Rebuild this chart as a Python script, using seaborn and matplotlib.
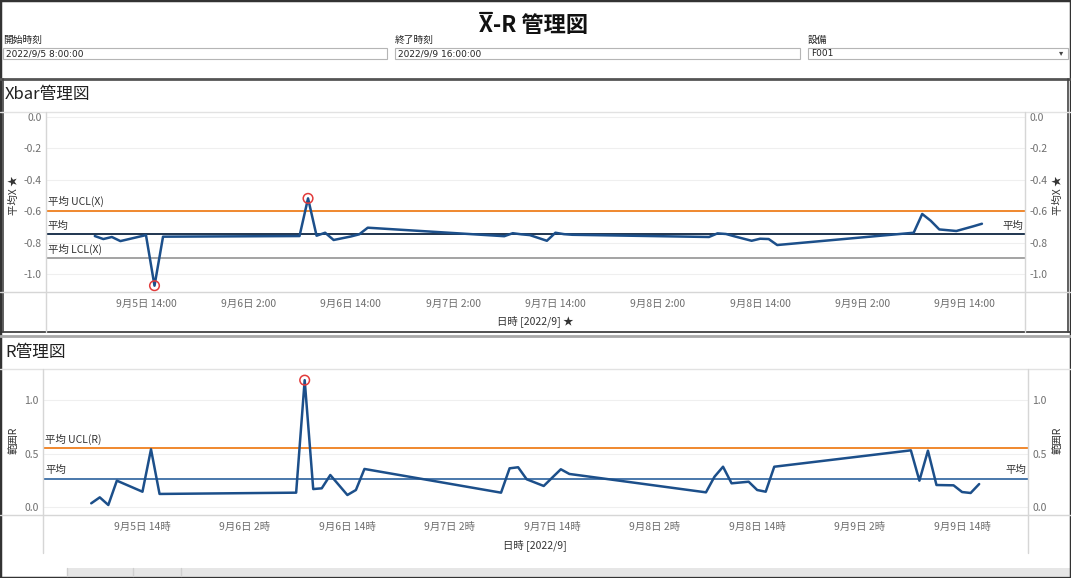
import pandas as pd
import seaborn as sns
import matplotlib.pyplot as plt
from matplotlib.lines import Line2D
from matplotlib.patches import Rectangle

# subgroup time stamps (hourly, 9/5 - 9/9)
times = [
    '2022-09-05 08:00', '2022-09-05 09:00', '2022-09-05 10:00', '2022-09-05 11:00',
    '2022-09-05 14:00', '2022-09-05 15:00', '2022-09-05 16:00',
    '2022-09-06 08:00', '2022-09-06 09:00', '2022-09-06 10:00', '2022-09-06 11:00',
    '2022-09-06 12:00', '2022-09-06 14:00', '2022-09-06 15:00', '2022-09-06 16:00',
    '2022-09-07 08:00', '2022-09-07 09:00', '2022-09-07 10:00', '2022-09-07 11:00',
    '2022-09-07 13:00', '2022-09-07 14:00', '2022-09-07 15:00', '2022-09-07 16:00',
    '2022-09-08 08:00', '2022-09-08 09:00', '2022-09-08 10:00', '2022-09-08 11:00',
    '2022-09-08 13:00', '2022-09-08 14:00', '2022-09-08 15:00', '2022-09-08 16:00',
    '2022-09-09 08:00', '2022-09-09 09:00', '2022-09-09 10:00', '2022-09-09 11:00',
    '2022-09-09 13:00', '2022-09-09 14:00', '2022-09-09 15:00', '2022-09-09 16:00',
]
xbar = [
    -0.757, -0.776, -0.763, -0.789, -0.751, -1.072, -0.761,
    -0.757, -0.518, -0.755, -0.736, -0.782, -0.760, -0.746, -0.704,
    -0.758, -0.739, -0.746, -0.751, -0.787, -0.736, -0.745, -0.749,
    -0.763, -0.740, -0.744, -0.759, -0.787, -0.774, -0.776, -0.814,
    -0.736, -0.617, -0.660, -0.715, -0.725, -0.710, -0.695, -0.679,
]
r_range = [
    0.032, 0.088, 0.016, 0.245, 0.141, 0.540, 0.120,
    0.132, 1.190, 0.166, 0.173, 0.298, 0.110, 0.157, 0.355,
    0.132, 0.361, 0.371, 0.258, 0.195, 0.274, 0.352, 0.308,
    0.135, 0.282, 0.376, 0.220, 0.235, 0.157, 0.141, 0.376,
    0.530, 0.245, 0.527, 0.204, 0.201, 0.138, 0.129, 0.213,
]

# control limits
ucl_x, mean_x, lcl_x = -0.596, -0.746, -0.898
ucl_r, mean_r = 0.549, 0.263

xbar_ticks = [0.0, -0.2, -0.4, -0.6, -0.8, -1.0]
r_ticks = [0.0, 0.5, 1.0]

df = pd.DataFrame({'日時': pd.to_datetime(times), 'xbar': xbar, 'R': r_range})

sns.set_style('white')
plt.rcParams['font.family'] = ['Noto Sans CJK JP', 'DejaVu Sans']

W, H = 1071, 578
fig = plt.figure(figsize=(W / 100, H / 100), dpi=100)

LINE = '#1c4f8a'
ORANGE = '#f0882e'
GRID = '#efefef'
AXC = '#d6d6d6'
TXT = '#333333'
TICK = '#6e6e6e'


def fx(x):
    return x / W


def fy(y):
    return 1 - y / H


def fline(x0, y0, x1, y1, color, lw=1.0):
    fig.add_artist(Line2D([fx(x0), fx(x1)], [fy(y0), fy(y1)],
                          transform=fig.transFigure, color=color, lw=lw))


def ftext(x, y, s, **kw):
    return fig.text(fx(x), fy(y), s, **kw)


def frect(x0, y0, x1, y1, **kw):
    fig.add_artist(Rectangle((fx(x0), fy(y1)), fx(x1) - fx(x0), fy(y0) - fy(y1),
                             transform=fig.transFigure, **kw))


# ---- header / filters ----
title = ftext(534, 25, 'X-R 管理図', ha='center', va='center', fontsize=16,
              fontweight='bold', color='#111111')
fig.canvas.draw()
rend = fig.canvas.get_renderer()
tb = title.get_window_extent(rend)
tmp = fig.text(0, 0, 'X', fontsize=16, fontweight='bold')
wx = tmp.get_window_extent(rend).width
tmp.remove()
# overline over the X (x-bar)
fig.add_artist(Line2D([(tb.x0 + 1) / W, (tb.x0 + wx - 1.5) / W],
                      [(tb.y1 + 1) / H, (tb.y1 + 1) / H],
                      transform=fig.transFigure, color='#111111', lw=1.6))

for x0, x1, lab, val in [(3, 387, '開始時刻', '2022/9/5 8:00:00'),
                         (395, 800, '終了時刻', '2022/9/9 16:00:00'),
                         (808, 1068, '設備', 'F001')]:
    ftext(x0, 40, lab, ha='left', va='center', fontsize=7, color='#222222')
    frect(x0, 48, x1, 59, facecolor='white', edgecolor='#b5b5b5', lw=0.8)
    ftext(x0 + 3, 54, val, ha='left', va='center', fontsize=6.5, color='#222222',
          family='DejaVu Sans')
ftext(1061, 53, '▾', ha='center', va='center', fontsize=6, color='#444444',
      family='DejaVu Sans')

# panel frames
fline(0, 79, W, 79, '#555555', 2.0)
fline(0, 332, W, 332, '#333333', 1.2)
fline(0, 336, W, 336, '#a8a8a8', 2.0)
fline(3, 79, 3, 332, '#444444', 1.2)
fline(W - 3, 79, W - 3, 332, '#444444', 1.2)
frect(67, 568, W, 576, facecolor='#e6e6e6', edgecolor='none')
for xs in [67, 133, 181]:
    fline(xs, 568, xs, 576, '#d0d0d0', 1.0)
fig.add_artist(Rectangle((0, 0), 1, 1, transform=fig.transFigure, fill=False,
                         edgecolor='#333333', lw=2.5))

ftext(5, 95, 'Xbar管理図', ha='left', va='center', fontsize=12, color='#222222')
ftext(5, 353, 'R管理図', ha='left', va='center', fontsize=12, color='#222222')


def setup_axis(ax, base, left_h, right_h, ylim, yticks, fmt, ylab_fmt):
    ax.set_xlim(base - pd.Timedelta(hours=left_h), base + pd.Timedelta(hours=right_h))
    ax.set_ylim(*ylim)
    ticks = [base + pd.Timedelta(hours=12 * k) for k in range(9)]
    ax.set_xticks(ticks)
    ax.set_xticklabels([fmt(t) for t in ticks])
    ax.set_yticks(yticks)
    ax.set_yticklabels([ylab_fmt(v) for v in yticks])
    ax.tick_params(axis='both', length=0, labelsize=7.5, labelcolor=TICK)
    ax.tick_params(axis='x', pad=5)
    ax.tick_params(axis='y', pad=3, labelright=True)
    ax.grid(axis='y', color=GRID, lw=0.8)
    ax.grid(axis='x', visible=False)
    for s in ['top', 'bottom', 'left', 'right']:
        ax.spines[s].set_visible(False)
    ax.set_xlabel('')
    ax.set_ylabel('')
    ax.set_facecolor('none')


base = pd.Timestamp('2022-09-05 14:00')

# ---- Xbar chart ----
ax1 = fig.add_axes([fx(46), fy(292), fx(1025) - fx(46), (292 - 112) / H])
ax1.axhline(ucl_x, color=ORANGE, lw=1.4, zorder=2)
ax1.axhline(mean_x, color='#1f3550', lw=1.4, zorder=2)
ax1.axhline(lcl_x, color='#a3a3a3', lw=1.4, zorder=2)
sns.lineplot(data=df, x='日時', y='xbar', ax=ax1, color=LINE, lw=1.8, zorder=3)
out_x = df[(df['xbar'] > ucl_x) | (df['xbar'] < lcl_x)]
ax1.scatter(out_x['日時'], out_x['xbar'], s=48, facecolors='none',
            edgecolors='#e23b3b', linewidths=1.1, zorder=4)
setup_axis(ax1, base, 11.72, 103.05, (-1.112, 0.03), xbar_ticks,
           lambda t: f'{t.month}月{t.day}日 {t.hour}:00', lambda v: f'{v:.1f}')
for yv, lab in [(ucl_x, '平均 UCL(X)'), (mean_x, '平均'), (lcl_x, '平均 LCL(X)')]:
    ax1.annotate(lab, xy=(0.002, yv), xycoords=('axes fraction', 'data'),
                 xytext=(0, 2.5), textcoords='offset points', ha='left', va='bottom',
                 fontsize=7.5, color=TXT)
ax1.annotate('平均', xy=(0.998, mean_x), xycoords=('axes fraction', 'data'),
             xytext=(0, 2.5), textcoords='offset points', ha='right', va='bottom',
             fontsize=7.5, color=TXT)

fline(0, 112, W, 112, '#e2e2e2', 1.0)
fline(0, 292, W, 292, AXC, 1.0)
fline(46, 112, 46, 332, AXC, 1.0)
fline(1025, 112, 1025, 332, AXC, 1.0)
ftext(14, 195, '平均X ★', rotation=90, ha='center', va='center', fontsize=7.5, color=TXT)
ftext(1058, 195, '平均X ★', rotation=90, ha='center', va='center', fontsize=7.5, color=TXT)
ftext(535, 321, '日時 [2022/9] ★', ha='center', va='center', fontsize=7.5, color=TXT)

# ---- R chart ----
ax2 = fig.add_axes([fx(43), fy(515), fx(1028) - fx(43), (515 - 369) / H])
ax2.axhline(ucl_r, color=ORANGE, lw=1.4, zorder=2)
ax2.axhline(mean_r, color='#4a78ab', lw=1.4, zorder=2)
sns.lineplot(data=df, x='日時', y='R', ax=ax2, color=LINE, lw=1.8, zorder=3)
out_r = df[df['R'] > ucl_r + 0.3]
ax2.scatter(out_r['日時'], out_r['R'], s=48, facecolors='none',
            edgecolors='#e23b3b', linewidths=1.1, zorder=4)
setup_axis(ax2, base, 11.65, 103.72, (-0.078, 1.295), r_ticks,
           lambda t: f'{t.month}月{t.day}日 {t.hour}時', lambda v: f'{v:.1f}')
for yv, lab in [(ucl_r, '平均 UCL(R)'), (mean_r, '平均')]:
    ax2.annotate(lab, xy=(0.002, yv), xycoords=('axes fraction', 'data'),
                 xytext=(0, 2.5), textcoords='offset points', ha='left', va='bottom',
                 fontsize=7.5, color=TXT)
ax2.annotate('平均', xy=(0.998, mean_r), xycoords=('axes fraction', 'data'),
             xytext=(0, 2.5), textcoords='offset points', ha='right', va='bottom',
             fontsize=7.5, color=TXT)

fline(0, 369, W, 369, '#e2e2e2', 1.0)
fline(0, 515, W, 515, AXC, 1.0)
fline(43, 369, 43, 553, AXC, 1.0)
fline(1028, 369, 1028, 553, AXC, 1.0)
ftext(14, 440, '範囲R', rotation=90, ha='center', va='center', fontsize=7.5, color=TXT)
ftext(1058, 440, '範囲R', rotation=90, ha='center', va='center', fontsize=7.5, color=TXT)
ftext(535, 545, '日時 [2022/9]', ha='center', va='center', fontsize=7.5, color=TXT)

fig.savefig('out.png', dpi=100)
